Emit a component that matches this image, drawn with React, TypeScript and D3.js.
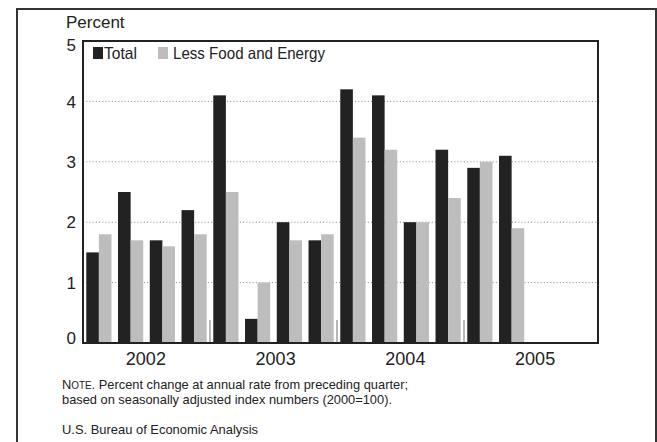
import React from "react";
import * as d3 from "d3";

const quarters = [
  "2002Q1","2002Q2","2002Q3","2002Q4",
  "2003Q1","2003Q2","2003Q3","2003Q4",
  "2004Q1","2004Q2","2004Q3","2004Q4",
  "2005Q1","2005Q2","2005Q3","2005Q4",
];
const years = ["2002", "2003", "2004", "2005"];
const totalValues = [1.5, 2.5, 1.7, 2.2, 4.1, 0.4, 2.0, 1.7, 4.2, 4.1, 2.0, 3.2, 2.9, 3.1];
const coreValues = [1.8, 1.7, 1.6, 1.8, 2.5, 1.0, 1.7, 1.8, 3.4, 3.2, 2.0, 2.4, 3.0, 1.9];
const yTicks = [0, 1, 2, 3, 4, 5];
const seriesNames = ["Total", "Less Food and Energy"];

const W = 657;
const H = 442;
const FONT = "'Liberation Sans', Arial, Helvetica, sans-serif";
const DARK = "#222222";
const LIGHT = "#bdbdbd";

export default function App() {
  const plotL = 83;
  const plotT = 41;
  const plotR = 598;
  const plotB = 343;
  const bandR = plotL + 508;

  const x = d3.scaleBand<string>().domain(quarters).range([plotL, bandR]).paddingInner(0).paddingOuter(0);
  const yearScale = d3.scaleBand<string>().domain(years).range([plotL, bandR]);
  const yearLabelScale = d3.scaleBand<string>().domain(years).range([plotL - 2, plotR + 2]);
  const y = d3.scaleLinear().domain([0, 5]).range([plotB, plotT]);

  const qw = x.bandwidth();
  const barW = 12.6;
  const pairOff = (qw - 2 * barW) / 2;

  return (
    <svg width={W} height={H} style={{ position: "absolute", left: 0, top: 0, background: "#fff" }}>
      <rect x={0} y={0} width={W} height={H} fill="#fff" />
      {/* outer frame */}
      <path d={`M17,${H + 5} L17,9 L656,9 L656,${H + 5}`} fill="none" stroke="#333" strokeWidth={2} />

      {/* y axis title */}
      <text x={66} y={27.5} fontFamily={FONT} fontSize={17} fill="#222">Percent</text>

      {/* gridlines */}
      {yTicks.filter((t) => t > 0 && t < 5).map((t) => (
        <line key={"g" + t} x1={plotL} x2={plotR} y1={y(t)} y2={y(t)} stroke="#999" strokeWidth={1} strokeDasharray="1.2,2" />
      ))}

      {/* y tick labels */}
      {yTicks.map((t) => {
        const yy = Math.min(Math.max(y(t), plotT + 4), plotB - 5.5);
        return (
          <text key={"yl" + t} x={76} y={yy} dy="0.36em" textAnchor="end" fontFamily={FONT} fontSize={17} fill="#222">
            {t}
          </text>
        );
      })}

      {/* bars */}
      {totalValues.map((v, i) => (
        <rect key={"t" + i} x={(x(quarters[i]) as number) + pairOff} y={y(v)} width={barW} height={plotB - y(v)} fill={DARK} />
      ))}
      {coreValues.map((v, i) => (
        <rect key={"c" + i} x={(x(quarters[i]) as number) + pairOff + barW} y={y(v)} width={barW} height={plotB - y(v)} fill={LIGHT} />
      ))}

      {/* year separator ticks */}
      {years.slice(1).map((yr) => (
        <line key={"s" + yr} x1={yearScale(yr) as number} x2={yearScale(yr) as number} y1={plotB - 23} y2={plotB} stroke="#888" strokeWidth={1.2} />
      ))}

      {/* plot frame */}
      <rect x={plotL} y={plotT} width={plotR - plotL} height={plotB - plotT} fill="none" stroke="#222" strokeWidth={2} />

      {/* year labels */}
      {years.map((yr) => (
        <text key={"yr" + yr} x={(yearLabelScale(yr) as number) + yearLabelScale.bandwidth() / 2} y={365} textAnchor="middle" fontFamily={FONT} fontSize={18} fill="#222">
          {yr}
        </text>
      ))}

      {/* legend */}
      <rect x={93} y={47} width={10} height={12} fill={DARK} />
      <text x={104} y={58.5} fontFamily={FONT} fontSize={16.5} fill="#222" textLength={33} lengthAdjust="spacingAndGlyphs">{seriesNames[0]}</text>
      <rect x={158} y={47} width={10} height={12} fill={LIGHT} />
      <text x={173} y={58.5} fontFamily={FONT} fontSize={16.5} fill="#222" textLength={152} lengthAdjust="spacingAndGlyphs">{seriesNames[1]}</text>

      {/* notes */}
      <text x={62} y={389} fontFamily={FONT} fontSize={13} fill="#222" textLength={346} lengthAdjust="spacingAndGlyphs">
        <tspan>N</tspan><tspan fontSize={10}>OTE</tspan><tspan>. Percent change at annual rate from preceding quarter;</tspan>
      </text>
      <text x={62} y={404} fontFamily={FONT} fontSize={13} fill="#222" textLength={330} lengthAdjust="spacingAndGlyphs">
        based on seasonally adjusted index numbers (2000=100).
      </text>
      <text x={62} y={434} fontFamily={FONT} fontSize={13} fill="#222" textLength={196} lengthAdjust="spacingAndGlyphs">
        U.S. Bureau of Economic Analysis
      </text>
    </svg>
  );
}
